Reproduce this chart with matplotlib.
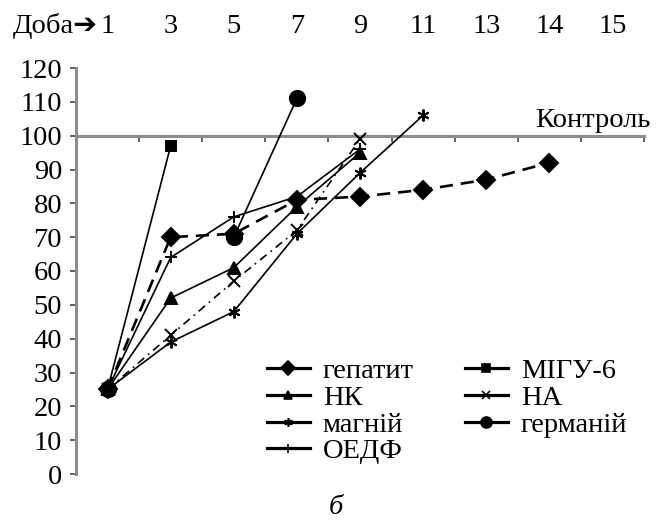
import numpy as np
import matplotlib
matplotlib.use("Agg")
from matplotlib import pyplot as plt
from matplotlib.lines import Line2D

# ---- data ----
days = ["1", "3", "5", "7", "9", "11", "13", "14", "15"]
nan = np.nan
hepatitis = [25, 70, 71, 81, 82, 84, 87, 92, nan]
migu6 = [25, 97, nan, nan, nan, nan, nan, nan, nan]
nk = [25, 52, 61, 79, 95, nan, nan, nan, nan]
na = [25, 41, 57, 72, 99, nan, nan, nan, nan]
magnii = [25, 39, 48, 71, 89, 106, nan, nan, nan]
germanii = [25, nan, 70, 111, nan, nan, nan, nan, nan]
oedf = [25, 64, 76, 82, 96, nan, nan, nan, nan]
control = 100

plt.rcParams["font.family"] = ["Liberation Serif", "DejaVu Sans"]
fs = 20.5

fig = plt.figure(figsize=(6.64, 5.2), dpi=100)
ax = fig.add_axes([76 / 664, 46 / 520, 568 / 664, 406 / 520])
x = np.arange(len(days))

# series: (values, label, marker, markersize, linestyle)
series = [
    (hepatitis, "гепатит", "D", 9.5, (0, (5, 3))),
    (migu6, "МІГУ-6", "s", 7.5, "-"),
    (nk, "НК", "^", 8.5, "-"),
    (na, "НА", "x", 8, (0, (5, 3, 1, 3))),
    (magnii, "магній", (6, 2, 0), 8.5, "-"),
    (germanii, "германій", "o", 11, "-"),
    (oedf, "ОЕДФ", "+", 9, "-"),
]

proxies = {}
for vals, lab, mk, ms, ls in series:
    lw = 1.9 if lab == "гепатит" else 1.2
    ax.plot(x, vals, color="black", linestyle=ls, lw=lw, marker=mk, ms=ms,
            mew=1.4, zorder=3)
    proxies[lab] = Line2D([], [], color="black", lw=2.3, marker=mk,
                          ms=ms * 0.72, mew=1.2)

ax.set_xlim(-0.5, len(days) - 0.5)
ax.set_ylim(0, 120)
ax.set_yticks(range(0, 121, 10))
ax.set_xticks(np.arange(0.5, len(days), 1))
ax.set_xticklabels([])

for s in ["top", "right"]:
    ax.spines[s].set_visible(False)
ax.spines["bottom"].set_position(("data", control))
for s in ["left", "bottom"]:
    ax.spines[s].set_color("#8c8c8c")
    ax.spines[s].set_linewidth(2.2)
ax.tick_params(axis="both", direction="out", length=4, width=1.3,
               color="#555555", labelsize=fs, pad=6)

# day labels across the top
for i, d in enumerate(days):
    ax.text(i, 130.4, d, ha="center", va="baseline", fontsize=fs, clip_on=False)
ax.text(-0.15, 130.4, "Доба\u2794", ha="right", va="baseline", fontsize=fs,
        clip_on=False)

ax.text(8.61, 102.6, "Контроль", ha="right", va="baseline", fontsize=fs,
        clip_on=False)

order = ["гепатит", "НК", "магній", "ОЕДФ", "МІГУ-6", "НА", "германій"]
ax.legend([proxies[k] for k in order], order, ncol=2, loc="upper left",
          bbox_to_anchor=(267 / 664, 1 - 358 / 520), bbox_transform=fig.transFigure,
          frameon=False, fontsize=fs, borderpad=0, borderaxespad=0,
          handlelength=1.5, handletextpad=0.46, columnspacing=1.8,
          labelspacing=0.03)

fig.text(336 / 664, 12 / 520, "б", ha="center", va="center", fontsize=fs,
         style="italic")

fig.savefig("out.png", dpi=100)
